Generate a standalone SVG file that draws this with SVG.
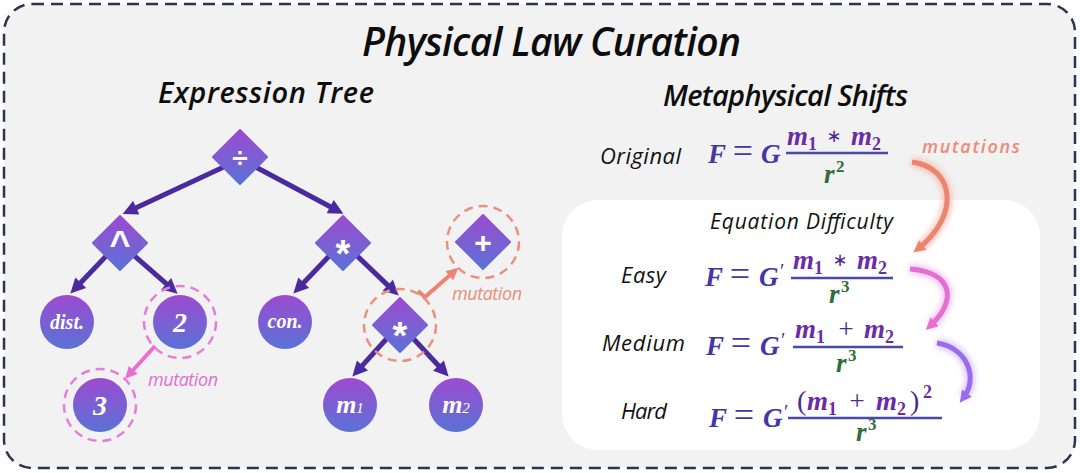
<svg xmlns="http://www.w3.org/2000/svg" width="1080" height="473" viewBox="0 0 1080 473">
<defs>
<style>
.ttl{font-family:"Open Sans",Lato,"Liberation Sans",sans-serif;font-style:italic;font-weight:600;fill:#0d0d0d}
.lbl{font-family:"Open Sans",Lato,"Liberation Sans",sans-serif;font-style:italic;fill:#111}
.nd{fill:url(#ng)}
.op{font-family:"Liberation Sans",Arial,sans-serif;font-weight:bold;fill:#fff;text-anchor:middle}
.nt{font-family:"Liberation Serif","Times New Roman",serif;font-weight:bold;font-style:italic;fill:#fff;text-anchor:middle}
.edge{stroke:#4a2a9e;stroke-width:5;fill:none}
.dpink{fill:none;stroke:#e57fd6;stroke-width:2.5;stroke-dasharray:9 6}
.dsal{fill:none;stroke:#e8917c;stroke-width:2.5;stroke-dasharray:9 6}
.eq{font-family:"Liberation Serif","Times New Roman",serif;font-weight:bold;font-style:italic;font-size:27px;fill:#4536a8}
.eqo{font-family:"Liberation Serif","Times New Roman",serif;font-size:36px;fill:#4536a8;text-anchor:middle}
.pr{font-family:"Liberation Serif","Times New Roman",serif;font-size:20px;fill:#4536a8}
.m{font-family:"Liberation Serif","Times New Roman",serif;font-weight:bold;font-style:italic;font-size:27px;fill:#6a2ca6}
.r{font-family:"Liberation Serif","Times New Roman",serif;font-weight:bold;font-style:italic;font-size:27px;fill:#2f6e3a}
.sb{font-family:"Liberation Serif","Times New Roman",serif;font-weight:bold;font-size:18px;fill:#6a2ca6}
.sp{font-family:"Liberation Serif","Times New Roman",serif;font-weight:bold;font-size:17px;fill:#2f6e3a}
.ast{font-family:"DejaVu Sans",sans-serif;font-size:18px;fill:#4a2a8e;text-anchor:middle}
.pls{font-family:"Liberation Serif","Times New Roman",serif;font-size:27px;fill:#4a2a8e;text-anchor:middle}
.par{font-family:"Liberation Serif","Times New Roman",serif;font-size:28px;fill:#4a2a8e}
.frac{stroke:#4a48a8;stroke-width:2.5}
.mut{font-family:"Open Sans",Lato,"Liberation Sans",sans-serif;font-style:italic;font-size:18px}
</style>
<linearGradient id="ng" x1="0" y1="0" x2="0" y2="1">
<stop offset="0" stop-color="#9c4bcf"/>
<stop offset="1" stop-color="#5a72d6"/>
</linearGradient>
<marker id="ah" viewBox="0 0 10 10" refX="4" refY="5" markerWidth="17" markerHeight="15" markerUnits="userSpaceOnUse" orient="auto"><path d="M0,0 L10,5 L0,10 z" fill="#4a2a9e"/></marker>
<marker id="ahp" viewBox="0 0 10 10" refX="4" refY="5" markerWidth="13" markerHeight="12" markerUnits="userSpaceOnUse" orient="auto"><path d="M0,0 L10,5 L0,10 z" fill="#e86fd0"/></marker>
<marker id="ahs" viewBox="0 0 10 10" refX="4" refY="5" markerWidth="13" markerHeight="12" markerUnits="userSpaceOnUse" orient="auto"><path d="M0,0 L10,5 L0,10 z" fill="#ec8470"/></marker>
<marker id="ahv" viewBox="0 0 10 10" refX="4" refY="5" markerWidth="13" markerHeight="12" markerUnits="userSpaceOnUse" orient="auto"><path d="M0,0 L10,5 L0,10 z" fill="#9a6bf0"/></marker>
<filter id="glow" x="-50%" y="-50%" width="200%" height="200%"><feGaussianBlur stdDeviation="3"/></filter>
</defs>

<rect x="0" y="0" width="1080" height="473" fill="#ffffff"/>
<rect id="frame" x="4" y="4" width="1071" height="464" rx="28" fill="#f2f2f2" stroke="#2e3350" stroke-width="2.5" stroke-dasharray="12 7"/>

<text class="ttl" x="362" y="56" font-size="39" textLength="379">Physical Law Curation</text>
<text class="ttl" x="158" y="103" font-size="29" textLength="216">Expression Tree</text>
<text class="ttl" x="663" y="106" font-size="29" textLength="245">Metaphysical Shifts</text>

<rect id="difficulty-panel" x="562" y="200" width="478" height="250" rx="36" fill="#ffffff"/>

<g id="connectors">
<line class="edge" x1="228" y1="165" x2="130.8" y2="210.2" marker-end="url(#ah)"/>
<line class="edge" x1="252" y1="165" x2="335.5" y2="209.5" marker-end="url(#ah)"/>
<line class="edge" x1="110" y1="252" x2="76.6" y2="287" marker-end="url(#ah)"/>
<line class="edge" x1="130" y1="252" x2="170.8" y2="287.7" marker-end="url(#ah)"/>
<line class="edge" x1="333" y1="252" x2="299.6" y2="287" marker-end="url(#ah)"/>
<line class="edge" x1="353" y1="252" x2="392.1" y2="289.4" marker-end="url(#ah)"/>
<line class="edge" x1="390" y1="335" x2="358.4" y2="369.9" marker-end="url(#ah)"/>
<line class="edge" x1="410" y1="335" x2="442.5" y2="370" marker-end="url(#ah)"/>
<line x1="155" y1="346" x2="130" y2="373.5" stroke="#e86fd0" stroke-width="4" marker-end="url(#ahp)"/>
<polyline points="418,291 425,297 453,272.6" fill="none" stroke="#ec8470" stroke-width="4" marker-end="url(#ahs)"/>
<g id="arc-mutations">
<path d="M912,162 C955,168 960,215 919,248" fill="none" stroke="#f4a898" stroke-width="9" opacity="0.7" filter="url(#glow)"/>
<path d="M912,162 C955,168 960,215 919,248" fill="none" stroke="#ec8470" stroke-width="5" marker-end="url(#ahs)"/>
</g>
<g id="arc-easy-medium">
<path d="M910,269 C952,272 958,300 931,325" fill="none" stroke="#f0a0e6" stroke-width="9" opacity="0.7" filter="url(#glow)"/>
<path d="M910,269 C952,272 958,300 931,325" fill="none" stroke="#e36fd3" stroke-width="5" marker-end="url(#ahp)"/>
</g>
<g id="arc-medium-hard">
<path d="M937,343 C968,348 978,378 964,397" fill="none" stroke="#c4a6fa" stroke-width="9" opacity="0.7" filter="url(#glow)"/>
<path d="M937,343 C968,348 978,378 964,397" fill="none" stroke="#9a6bf0" stroke-width="5" marker-end="url(#ahv)"/>
</g>
</g>

<g id="node-div"><path class="nd" d="M240,130 L267,157 L240,184 L213,157 Z" stroke="url(#ng)" stroke-width="2" stroke-linejoin="round"/><text class="op" x="240" y="167" font-size="28">÷</text></g>
<g id="node-pow"><path class="nd" d="M120,216 L147,243 L120,270 L93,243 Z" stroke="url(#ng)" stroke-width="2" stroke-linejoin="round"/><text class="op" x="120" y="256" font-size="36">^</text></g>
<g id="node-mul"><path class="nd" d="M343,216 L370,243 L343,270 L316,243 Z" stroke="url(#ng)" stroke-width="2" stroke-linejoin="round"/><text class="op" x="343" y="267" font-size="38">*</text></g>
<g id="node-plus"><circle class="dsal" cx="483" cy="242" r="36"/><path class="nd" d="M483,215 L510,242 L483,269 L456,242 Z" stroke="url(#ng)" stroke-width="2" stroke-linejoin="round"/><text class="op" x="483" y="253" font-size="30">+</text></g>
<g id="node-mul2"><circle class="dsal" cx="400" cy="325" r="36"/><path class="nd" d="M400,298 L427,325 L400,352 L373,325 Z" stroke="url(#ng)" stroke-width="2" stroke-linejoin="round"/><text class="op" x="400" y="349" font-size="38">*</text></g>
<g id="node-dist"><circle class="nd" cx="67" cy="322" r="27"/><text class="nt" x="67" y="329" font-size="20">dist.</text></g>
<g id="node-2"><circle class="dpink" cx="180" cy="322" r="36"/><circle class="nd" cx="180" cy="322" r="27"/><text class="nt" x="180" y="332" font-size="28">2</text></g>
<g id="node-con"><circle class="nd" cx="285" cy="322" r="27"/><text class="nt" x="285" y="328" font-size="20">con.</text></g>
<g id="node-3"><circle class="dpink" cx="100" cy="405" r="36"/><circle class="nd" cx="100" cy="405" r="27"/><text class="nt" x="100" y="415" font-size="28">3</text></g>
<g id="node-m1"><circle class="nd" cx="350" cy="405" r="27"/><text class="nt" x="350" y="413" font-size="26">m<tspan font-size="15" font-weight="normal">1</tspan></text></g>
<g id="node-m2"><circle class="nd" cx="456" cy="405" r="27"/><text class="nt" x="456" y="413" font-size="26">m<tspan font-size="15" font-weight="normal">2</tspan></text></g>

<text class="mut" x="148" y="386" fill="#e070d0" textLength="70">mutation</text>
<text class="mut" x="452" y="300" fill="#e8907a" textLength="70">mutation</text>
<text class="mut" x="922" y="153" font-size="21" font-weight="600" fill="#ee8a78" textLength="98">mutations</text>

<g id="eq-original">
<text class="lbl" x="600" y="164" font-size="22" textLength="81">Original</text>
<text class="eq" x="708" y="163">F</text><text class="eqo" x="743" y="163">=</text><text class="eq" x="761" y="163">G</text>
<line class="frac" x1="786" y1="153" x2="888" y2="153"/>
<text class="m" x="787" y="145">m</text><text class="sb" x="808" y="150">1</text><text class="ast" x="834" y="142">∗</text><text class="m" x="851" y="145">m</text><text class="sb" x="872" y="150">2</text>
<text class="r" x="824" y="183">r</text><text class="sp" x="836" y="172">2</text>
</g>

<text class="lbl" x="710" y="229" font-size="21" textLength="183">Equation Difficulty</text>

<g id="eq-easy">
<text class="lbl" x="621" y="283" font-size="22" textLength="45">Easy</text>
<text class="eq" x="705" y="286">F</text><text class="eqo" x="740" y="286">=</text><text class="eq" x="759" y="286">G</text><text class="pr" x="780" y="278">′</text>
<line class="frac" x1="791" y1="278" x2="893" y2="278"/>
<text class="m" x="793" y="269">m</text><text class="sb" x="814" y="274">1</text><text class="ast" x="840" y="266">∗</text><text class="m" x="857" y="269">m</text><text class="sb" x="878" y="274">2</text>
<text class="r" x="829" y="303">r</text><text class="sp" x="841" y="292">3</text>
</g>

<g id="eq-medium">
<text class="lbl" x="602" y="351" font-size="22" textLength="83">Medium</text>
<text class="eq" x="706" y="355">F</text><text class="eqo" x="741" y="355">=</text><text class="eq" x="760" y="355">G</text><text class="pr" x="781" y="347">′</text>
<line class="frac" x1="793" y1="347" x2="903" y2="347"/>
<text class="m" x="795" y="338">m</text><text class="sb" x="816" y="343">1</text><text class="pls" x="846" y="338">+</text><text class="m" x="864" y="338">m</text><text class="sb" x="885" y="343">2</text>
<text class="r" x="836" y="372">r</text><text class="sp" x="848" y="361">3</text>
</g>

<g id="eq-hard">
<text class="lbl" x="621" y="419" font-size="22" textLength="46">Hard</text>
<text class="eq" x="709" y="427">F</text><text class="eqo" x="744" y="427">=</text><text class="eq" x="763" y="427">G</text><text class="pr" x="784" y="419">′</text>
<line class="frac" x1="788" y1="418" x2="942" y2="418"/>
<text class="par" x="797" y="410">(</text><text class="m" x="807" y="410">m</text><text class="sb" x="828" y="415">1</text><text class="pls" x="857" y="410">+</text><text class="m" x="876" y="410">m</text><text class="sb" x="897" y="415">2</text><text class="par" x="910" y="410">)</text><text class="sb" x="923" y="398">2</text>
<text class="r" x="856" y="441">r</text><text class="sp" x="868" y="430">3</text>
</g>
</svg>
